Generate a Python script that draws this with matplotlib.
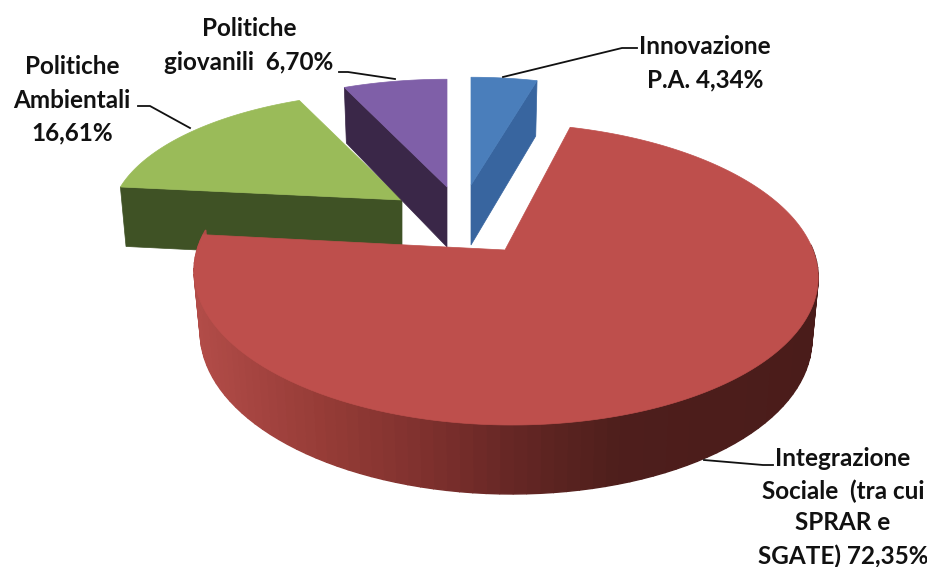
import numpy as np
import matplotlib
matplotlib.use("Agg")
import matplotlib.pyplot as plt

names = ["Innovazione P.A.", "Integrazione Sociale", "Politiche Ambientali", "Politiche giovanili"]
values = [4.34, 72.35, 16.61, 6.70]

top_colors = ["#4A7EBB", "#BE4F4C", "#9ABB59", "#7F5FA8"]
cut_colors = ["#38659F", None, "#3F5225", "#3A2748"]

# wall shading of the big slice, light on the left to dark on the right
shade_x = [195, 320, 430, 500, 560, 620, 820]
shade_r = [178, 150, 125, 105, 90, 78, 74]
shade_g = [76, 60, 48, 40, 35, 30, 28]
shade_b = [72, 55, 45, 38, 32, 28, 26]

label_lines = [
    ["Innovazione", "P.A. 4,34%"],
    ["Integrazione", "Sociale  (tra cui", "SPRAR e", "SGATE) 72,35%"],
    ["Politiche", "Ambientali", "16,61%"],
    ["Politiche", "giovanili  6,70%"],
]
label_x = [705, 843, 72, 249]
label_y = [[47, 80], [459, 491, 523, 556], [67, 101, 133], [29, 62]]
leader_x = [[503, 622, 637], [704, 763, 773], [190, 150, 138], [395, 348, 339]]
leader_y = [[77, 48, 48], [460, 465, 465], [128, 106, 106], [79, 72, 72]]

# slice tips and pie size in pixels
tip_x = [471, 505, 402, 447]
tip_y = [185, 250, 200, 187]
radius_x = [283, 308, 288, 288]
radius_y = [125, 147, 125, 125]
skew = [0, -7, 0, 0]
cut_side = ["end", None, "start", "start"]
persp = 0.16
depth = 60


def rim(i, a, lower=False):
    a = np.radians(a)
    side = np.sin(a)
    front = np.cos(a)
    s = 1 + persp * front
    x = radius_x[i] * side / s + skew[i] * front
    y = -radius_y[i] * front / s
    if lower:
        # the wall gets thinner towards the back, less than it grows at the front
        shrink = np.where(front > 0, 0.08, 0.15)
        x = x * 0.98
        y = y + depth * (1 - shrink * front)
    return tip_x[i] + x, tip_y[i] + y


fig = plt.figure(figsize=(9.28, 5.67), dpi=100)
ax = fig.add_axes([0, 0, 1, 1])
ax.set_xlim(0, 928)
ax.set_ylim(567, 0)
ax.axis("off")

ends = np.cumsum(values) / np.sum(values) * 360
starts = ends - np.array(values) / np.sum(values) * 360

# back slices first, the big one goes over them
for i in [2, 3, 0]:
    a = np.linspace(starts[i], ends[i], 60)
    xs, ys = rim(i, a)
    # the flat cut that faces the viewer
    cut = ends[i] if cut_side[i] == "end" else starts[i]
    cx0, cy0 = rim(i, cut)
    cx1, cy1 = rim(i, cut, True)
    ax.fill([tip_x[i], cx0, cx1, tip_x[i]], [tip_y[i], cy0, cy1, tip_y[i] + depth],
            color=cut_colors[i], lw=0.5, zorder=2 + i)
    ax.fill(np.r_[tip_x[i], xs], np.r_[tip_y[i], ys],
            color=top_colors[i], lw=0.5, zorder=2 + i)

# big slice: outer wall as bands, then the top
big = 1
band = np.linspace(88, 278, 90)
for a0, a1 in zip(band[:-1], band[1:]):
    x0, y0 = rim(big, a0)
    x1, y1 = rim(big, a1)
    x2, y2 = rim(big, a1, True)
    x3, y3 = rim(big, a0, True)
    mid = (x0 + x1) / 2
    col = (np.interp(mid, shade_x, shade_r) / 255,
           np.interp(mid, shade_x, shade_g) / 255,
           np.interp(mid, shade_x, shade_b) / 255)
    ax.fill([x0, x1, x2, x3], [y0, y1, y2, y3], color=col, lw=1.0, zorder=6)
a = np.linspace(starts[big], ends[big], 300)
xs, ys = rim(big, a)
ax.fill(np.r_[tip_x[big], xs], np.r_[tip_y[big], ys],
        color=top_colors[big], lw=0.5, zorder=7)

for i in range(len(names)):
    ax.plot(leader_x[i], leader_y[i], color="#111111", lw=1.3, zorder=8)
    for line, y in zip(label_lines[i], label_y[i]):
        ax.text(label_x[i], y, line, ha="center", va="center",
                family="Lato", weight="bold", fontsize=17.5, color="#111111", zorder=9)

fig.savefig("out.png", dpi=100)
